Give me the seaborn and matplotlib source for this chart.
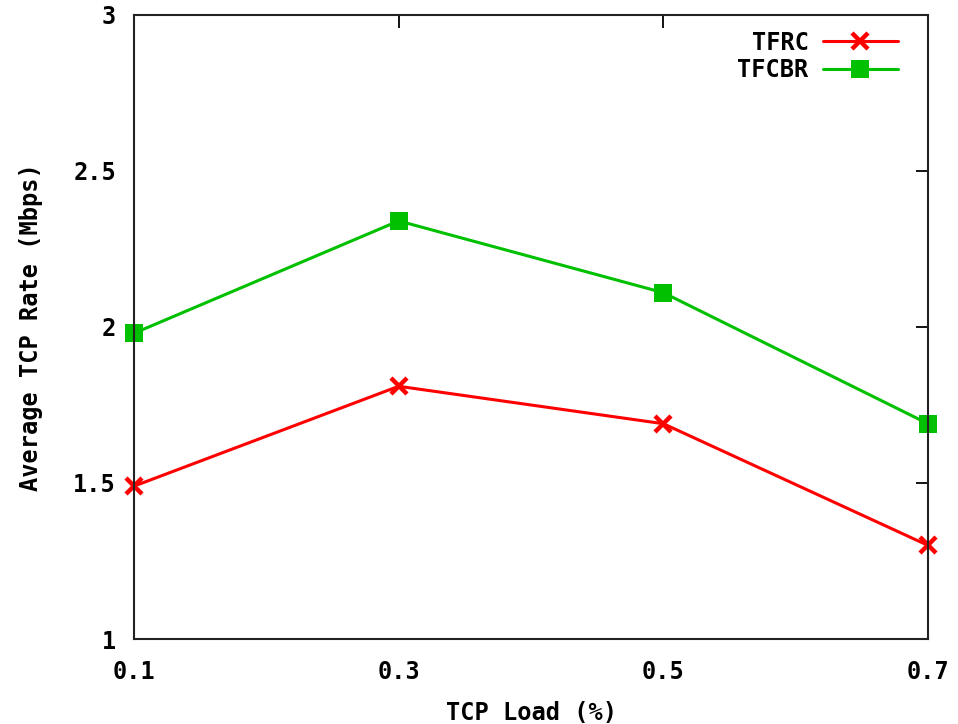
import matplotlib
matplotlib.use("Agg")
import matplotlib.pyplot as plt
import seaborn as sns
import pandas as pd
from matplotlib.lines import Line2D

# TCP load levels and measured average TCP rates
tcp_load = [0.1, 0.3, 0.5, 0.7]
tfrc_rate = [1.49, 1.81, 1.69, 1.30]
tfcbr_rate = [1.98, 2.34, 2.11, 1.69]
x_tick_labels = ["0.1", "0.3", "0.5", "0.7"]
y_ticks = [1, 1.5, 2, 2.5, 3]
y_tick_labels = ["1", "1.5", "2", "2.5", "3"]

tfrc_df = pd.DataFrame({"load": tcp_load, "rate": tfrc_rate})
tfcbr_df = pd.DataFrame({"load": tcp_load, "rate": tfcbr_rate})

sns.set_style("white")
plt.rcParams["font.family"] = ["DejaVu Sans Mono"]
plt.rcParams["font.weight"] = "bold"
plt.rcParams["text.color"] = "black"
plt.rcParams["axes.labelcolor"] = "black"

fig = plt.figure(figsize=(9.58, 7.24), dpi=100)
ax = fig.add_axes([0.1399, 0.1174, 0.8288, 0.8619])

red, green = "#ff0000", "#00c000"
sns.lineplot(data=tfrc_df, x="load", y="rate", color=red, linewidth=2.2,
             marker="x", markersize=11, markeredgewidth=3.2,
             markeredgecolor=red, ax=ax)
sns.lineplot(data=tfcbr_df, x="load", y="rate", color=green, linewidth=2.2,
             marker="s", markersize=12.5, markeredgewidth=0,
             markerfacecolor=green, ax=ax)
for line in ax.get_lines():
    line.set_clip_on(False)

ax.set_xlim(0.1, 0.7)
ax.set_ylim(1, 3)
ax.set_xticks(tcp_load)
ax.set_xticklabels(x_tick_labels)
ax.set_yticks(y_ticks)
ax.set_yticklabels(y_tick_labels)
ax.tick_params(direction="in", length=9, width=1.3, top=True, right=True,
               labelsize=17, colors="black")
ax.tick_params(axis="x", pad=15)
ax.tick_params(axis="y", pad=13)
for s in ax.spines.values():
    s.set_visible(True)
    s.set_linewidth(1.5)
    s.set_color("#222222")

ax.set_xlabel("TCP Load (%)", fontsize=17, fontweight="bold", labelpad=12)
ax.set_ylabel("Average TCP Rate (Mbps)", fontsize=17, fontweight="bold", labelpad=22)

# legend: label on the left, sample line with marker on the right
handles = [
    Line2D([], [], color=red, lw=2.2, marker="x", markersize=11,
           markeredgewidth=3.2, markeredgecolor=red),
    Line2D([], [], color=green, lw=2.2, marker="s", markersize=12.5,
           markeredgewidth=0),
]
ax.legend(handles, ["TFRC", "TFCBR"], loc="upper right", frameon=False,
          markerfirst=False, handlelength=3.2, handletextpad=0.6,
          labelspacing=0.15, borderaxespad=0.0, borderpad=0.0,
          bbox_to_anchor=(0.9625, 0.975),
          prop={"family": "DejaVu Sans Mono", "weight": "bold", "size": 17})

fig.savefig("out.png", dpi=100)
